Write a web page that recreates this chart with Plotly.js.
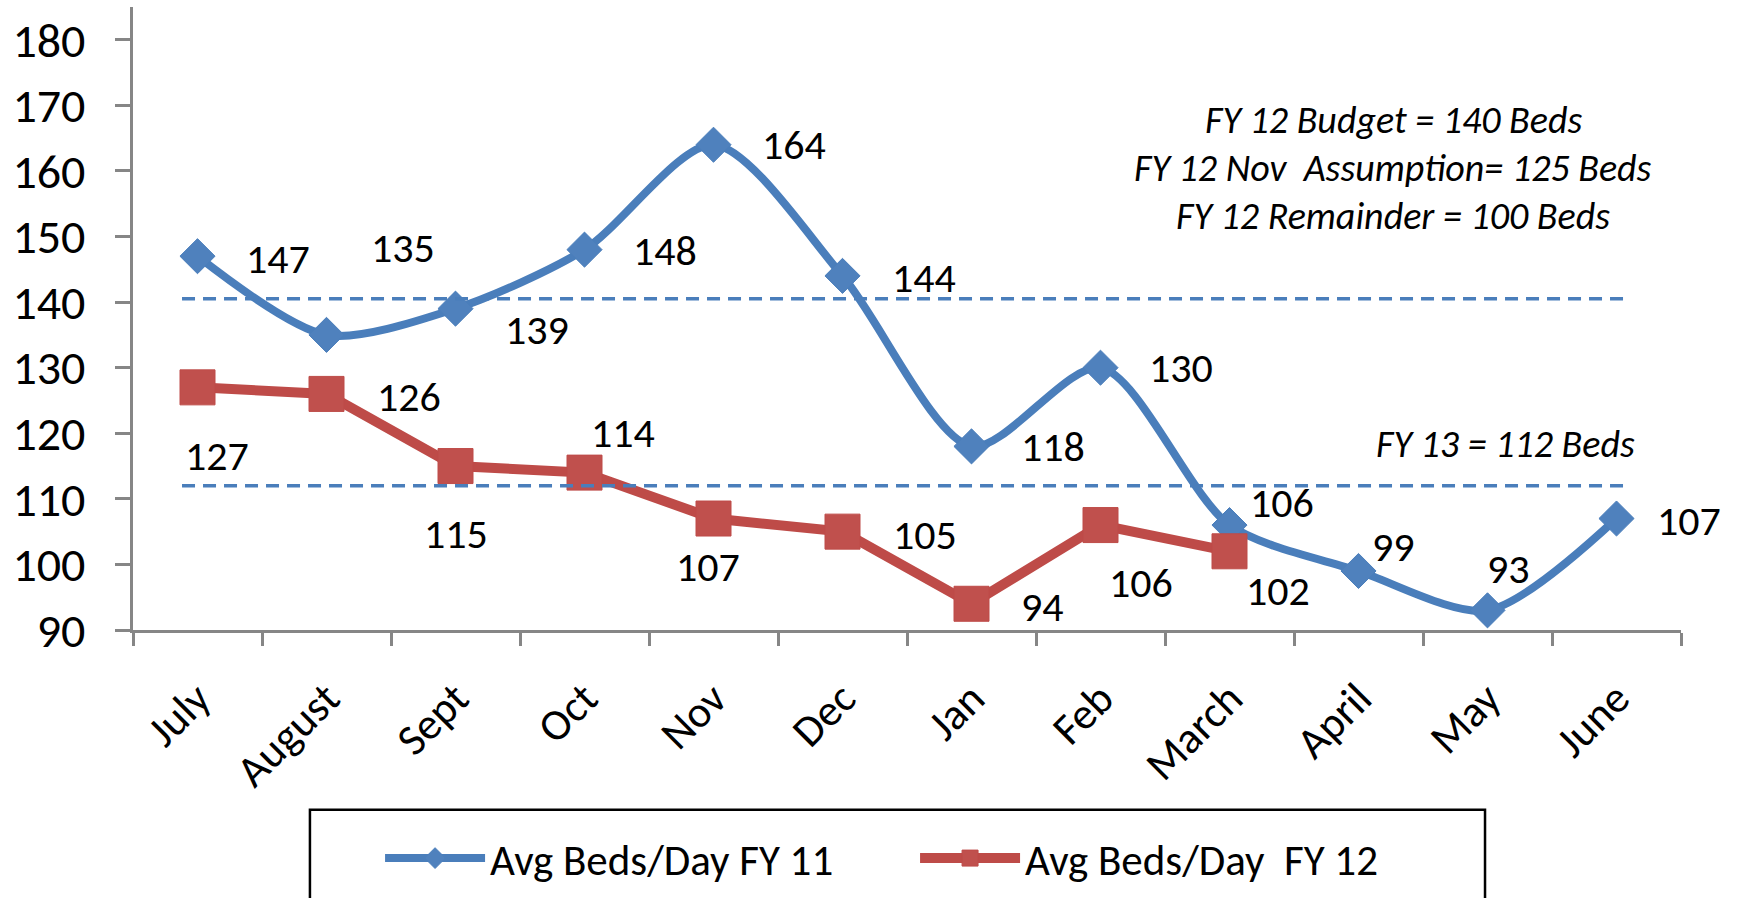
<!DOCTYPE html>
<html><head><meta charset="utf-8">
<script src="https://cdn.plot.ly/plotly-3.0.1.min.js"></script>
<style>html,body{margin:0;padding:0;background:#fff}</style>
</head><body>
<div id="chart" style="width:1737px;height:898px"></div>
<script>
// ---- data ----
const months = ["July","August","Sept","Oct","Nov","Dec","Jan","Feb","March","April","May","June"];
const fy11 = [147,135,139,148,164,144,118,130,106,99,93,107];
const fy12 = [127,126,115,114,107,105,94,106,102];
const seriesNames = ["Avg Beds/Day FY 11","Avg Beds/Day\u00a0 FY 12"];
const refLevels = [140.5, 112];
const noteLines = ["FY 12 Budget = 140 Beds","FY 12 Nov\u00a0\u00a0Assumption= 125 Beds","FY 12 Remainder = 100 Beds"];
const fy13Note = "FY 13 = 112 Beds";
const yTicks = [90,100,110,120,130,140,150,160,170,180];

// ---- label offsets (px, screen: right, down) ----
const off11 = [[80,2],[76,-87],[81,21],[80,1],[80,0],[81,2],[81,0],[80,0],[52,-23],[35,-24],[21,-42],[72,2]];
const off12 = [[19,68],[82,3],[0,67],[38,-40],[-6,48],[82,3],[71,3],[40,57],[48,39]];

const BLUE = "#4A7EBB", BLUE_M = "#4F81BD", RED = "#BE4B48", RED_M = "#C0504D";
const FONT = "Carlito, 'Liberation Sans', Arial, sans-serif";

const traces = [
  {x: months, y: fy11, name: seriesNames[0], type: "scatter", mode: "lines+markers",
   line: {color: BLUE, width: 8, shape: "spline", smoothing: 0.8},
   marker: {symbol: "diamond", size: 27, color: BLUE_M, line: {color: BLUE, width: 1}}},
  {x: months.slice(0, fy12.length), y: fy12, name: seriesNames[1], type: "scatter", mode: "lines+markers",
   line: {color: RED, width: 10},
   marker: {symbol: "square", size: 35, color: RED_M, line: {color: RED, width: 1}}}
];

const annotations = [];
fy11.forEach((v, i) => annotations.push({x: months[i], y: v, xref: "x", yref: "y", text: String(v),
  showarrow: false, xshift: off11[i][0], yshift: -off11[i][1], font: {family: FONT, size: 42, color: "#000"}}));
fy12.forEach((v, i) => annotations.push({x: months[i], y: v, xref: "x", yref: "y", text: String(v),
  showarrow: false, xshift: off12[i][0], yshift: -off12[i][1], font: {family: FONT, size: 42, color: "#000"}}));
const noteY = [167.7, 160.5, 153.2];
noteLines.forEach((t, k) => annotations.push({x: 9.27, y: noteY[k], xref: "x", yref: "y", text: t,
  showarrow: false, xanchor: "center", yanchor: "middle", font: {family: FONT, size: 38, style: "italic", color: "#000"}}));
annotations.push({x: 11.16, y: 118.3, xref: "x", yref: "y", text: fy13Note, showarrow: false,
  xanchor: "right", yanchor: "middle", font: {family: FONT, size: 38, style: "italic", color: "#000"}});

const shapes = refLevels.map(v => ({type: "line", xref: "x", yref: "y", x0: -0.12, x1: 11.11, y0: v, y1: v,
  line: {color: BLUE, width: 3.5, dash: "13px,8px"}}));
shapes.push({type: "rect", xref: "paper", yref: "paper", x0: 0.1143, x1: 0.8734, y0: -0.2885, y1: -0.6,
  line: {color: "#000", width: 2.5}, fillcolor: "rgba(0,0,0,0)"});

const layout = {
  width: 1737, height: 898,
  margin: {l: 133, r: 56, t: 7, b: 267},
  paper_bgcolor: "#fff", plot_bgcolor: "#fff",
  font: {family: FONT, color: "#000"},
  showlegend: true,
  legend: {orientation: "h", x: 0.1596, xanchor: "left", y: -0.364, yanchor: "middle",
    font: {family: FONT, size: 43, color: "#000"}, bgcolor: "rgba(0,0,0,0)", borderwidth: 0,
    itemwidth: 100, entrywidth: 420, entrywidthmode: "pixels"},
  xaxis: {type: "category", categoryorder: "array", categoryarray: months, range: [-0.5, 11.5],
    showgrid: false, zeroline: false, showline: true, linecolor: "#868686", linewidth: 3,
    ticks: "outside", tickson: "boundaries", ticklen: 13, tickwidth: 3, tickcolor: "#868686",
    tickangle: -45, tickfont: {family: FONT, size: 44, color: "#000"}, ticklabelstandoff: 22},
  yaxis: {range: [90, 185], tickvals: yTicks, showgrid: false, zeroline: false, showline: true,
    linecolor: "#868686", linewidth: 3, ticks: "outside", ticklen: 15, tickwidth: 3, tickcolor: "#868686",
    tickfont: {family: FONT, size: 48, color: "#000"}, ticklabelstandoff: 20},
  annotations: annotations,
  shapes: shapes
};

Plotly.newPlot("chart", traces, layout, {displayModeBar: false, staticPlot: true});
</script>
</body></html>
